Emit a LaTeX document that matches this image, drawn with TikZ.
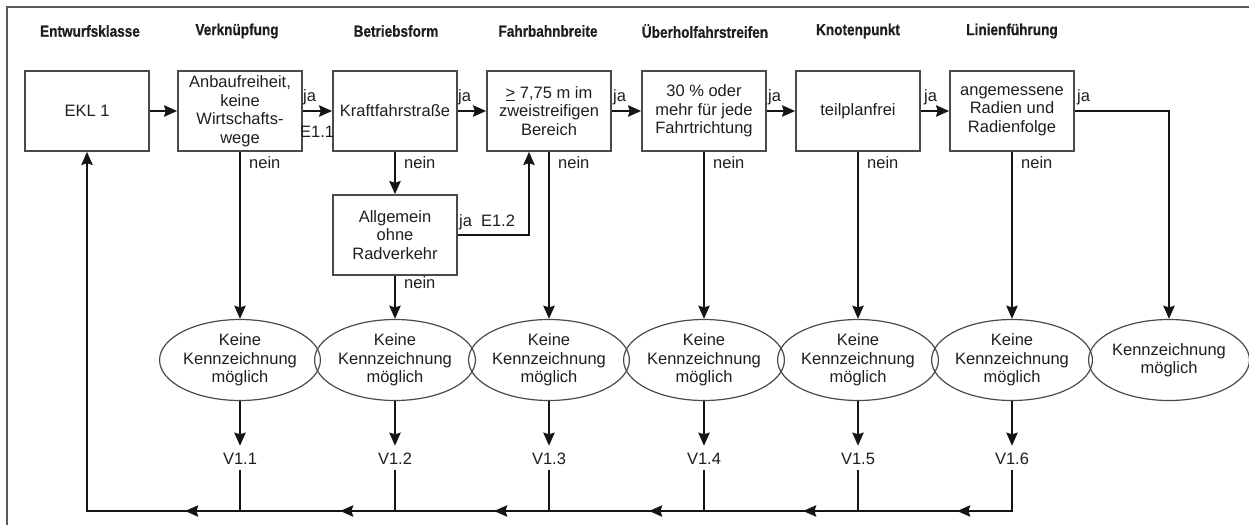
\documentclass[tikz,border=0pt]{standalone}
\usepackage{fontspec}
\setmainfont{Liberation Sans}
\newfontfamily\headfont[FakeStretch=0.85,FakeBold=0.6]{Liberation Sans}
\usetikzlibrary{shapes.geometric,arrows.meta}
\definecolor{boxgray}{HTML}{4A4A4A}
\definecolor{linecol}{HTML}{151515}
\definecolor{framecol}{HTML}{5A5A5A}
\definecolor{txt}{HTML}{1E1E1E}

\begin{document}
\begin{tikzpicture}[x=1pt,y=-1pt,
  every node/.style={font=\fontsize{16.5}{18.5}\selectfont, text=txt},
  box/.style={draw=boxgray,line width=1.5pt,minimum width=124pt,minimum height=80pt,align=center,inner sep=0pt},
  oval/.style={ellipse,draw=boxgray,line width=1.2pt,minimum width=149pt,minimum height=81pt,align=center,inner sep=0pt},
  head/.style={font=\headfont\bfseries\fontsize{16}{18}\selectfont},
  lbl/.style={inner sep=0pt},
  vlab/.style={inner xsep=2pt,inner ysep=6pt,text height=12pt,text depth=0pt},
  flow/.style={line width=2.8pt,draw=linecol,-{Stealth[length=13pt,width=11pt,inset=1.5pt]}},
  plain/.style={line width=2.8pt,draw=linecol}]

\useasboundingbox (0,0) rectangle (1249,525);

% frame (top and left edges)
\draw[framecol,line width=1.5pt] (7,525) -- (7,7) -- (1249,7);

% column headings
\node[head] (h0) at (90,31) {Entwurfsklasse};
\node[head] (h1) at (237,31) {Verknüpfung};
\node[head] (h2) at (396,31) {Betriebsform};
\node[head] (h3) at (548,31) {Fahrbahnbreite};
\node[head] (h4) at (705,31) {Überholfahrstreifen};
\node[head] (h5) at (858,31) {Knotenpunkt};
\node[head] (h6) at (1012,31) {Linienführung};

% criteria boxes
\node[box] (ekl) at (87,111) {EKL 1};
\node[box] (anbau) at (240,111) {Anbaufreiheit,\\keine\\Wirtschafts-\\wege};
\node[box] (kraft) at (395,111) {Kraftfahrstraße};
\node[box] (allg) at (395,235) {Allgemein\\ohne\\Radverkehr};
\node[box] (fahr) at (549,111) {\underline{>} 7,75 m im\\zweistreifigen\\Bereich};
\node[box] (ueber) at (704,111) {30 \% oder\\mehr für jede\\Fahrtrichtung};
\node[box] (knoten) at (858,111) {teilplanfrei};
\node[box] (linie) at (1012,111) {angemessene\\Radien und\\Radienfolge};

% results
\node[oval] (k1) at (240,360) {Keine\\Kennzeichnung\\möglich};
\node[oval] (k2) at (395,360) {Keine\\Kennzeichnung\\möglich};
\node[oval] (k3) at (549,360) {Keine\\Kennzeichnung\\möglich};
\node[oval] (k4) at (704,360) {Keine\\Kennzeichnung\\möglich};
\node[oval] (k5) at (858,360) {Keine\\Kennzeichnung\\möglich};
\node[oval] (k6) at (1012,360) {Keine\\Kennzeichnung\\möglich};
\node[oval,minimum width=150pt] (kz) at (1169,360) {Kennzeichnung\\möglich};

% variant labels
\node[vlab] (v1) at (240,458) {V1.1};
\node[vlab] (v2) at (395,458) {V1.2};
\node[vlab] (v3) at (549,458) {V1.3};
\node[vlab] (v4) at (704,458) {V1.4};
\node[vlab] (v5) at (858,458) {V1.5};
\node[vlab] (v6) at (1012,458) {V1.6};

% "ja" branches
\draw[flow] (ekl.east) -- (anbau.west);
\draw[flow] (anbau.east) -- (kraft.west);
\draw[flow] (kraft.east) -- (fahr.west);
\draw[flow] (fahr.east) -- (ueber.west);
\draw[flow] (ueber.east) -- (knoten.west);
\draw[flow] (knoten.east) -- (linie.west);
\coordinate (rt) at (1169,111);
\draw[flow] (linie.east) -- (rt) -- (kz.north);
\coordinate (bend) at (529,235);
\draw[flow] (allg.east) -- (bend) -- (bend |- fahr.south);

\node[lbl,anchor=west] (ja1) at (303,97) {ja};
\node[lbl,anchor=west] (e11) at (300,132) {E1.1};
\node[lbl,anchor=west] (ja2) at (458,97) {ja};
\node[lbl,anchor=west] (ja3) at (613,97) {ja};
\node[lbl,anchor=west] (ja4) at (768,97) {ja};
\node[lbl,anchor=west] (ja5) at (924,97) {ja};
\node[lbl,anchor=west] (ja6) at (1077,97) {ja};
\node[lbl,anchor=west] (ja7) at (459,222) {ja\hspace{9pt}E1.2};

% "nein" branches
\draw[flow] (anbau.south) -- (k1.north);
\draw[flow] (kraft.south) -- (allg.north);
\draw[flow] (allg.south) -- (k2.north);
\draw[flow] (fahr.south) -- (k3.north);
\draw[flow] (ueber.south) -- (k4.north);
\draw[flow] (knoten.south) -- (k5.north);
\draw[flow] (linie.south) -- (k6.north);

\node[lbl,anchor=west] (n1) at (249,163) {nein};
\node[lbl,anchor=west] (n2) at (404,163) {nein};
\node[lbl,anchor=west] (n3) at (404,283) {nein};
\node[lbl,anchor=west] (n4) at (558,163) {nein};
\node[lbl,anchor=west] (n5) at (713,163) {nein};
\node[lbl,anchor=west] (n6) at (867,163) {nein};
\node[lbl,anchor=west] (n7) at (1021,163) {nein};

% result to variant
\draw[flow] (k1.south) -- (v1.north);
\draw[flow] (k2.south) -- (v2.north);
\draw[flow] (k3.south) -- (v3.north);
\draw[flow] (k4.south) -- (v4.north);
\draw[flow] (k5.south) -- (v5.north);
\draw[flow] (k6.south) -- (v6.north);

% return line to the design class
\coordinate (j1) at (240,511);
\coordinate (j2) at (395,511);
\coordinate (j3) at (549,511);
\coordinate (j4) at (704,511);
\coordinate (j5) at (858,511);
\coordinate (j6) at (1012,511);
\coordinate (j0) at (ekl.south |- j1);
\draw[plain] (v1.south) -- (j1);
\draw[plain] (v2.south) -- (j2);
\draw[plain] (v3.south) -- (j3);
\draw[plain] (v4.south) -- (j4);
\draw[plain] (v5.south) -- (j5);
\draw[flow] (v6.south) -- (j6) -- (j0) -- (ekl.south);
\foreach \j in {j1,j2,j3,j4,j5,j6}
  \draw[flow] (\j) -- ++(-55,0);
\end{tikzpicture}
\end{document}
